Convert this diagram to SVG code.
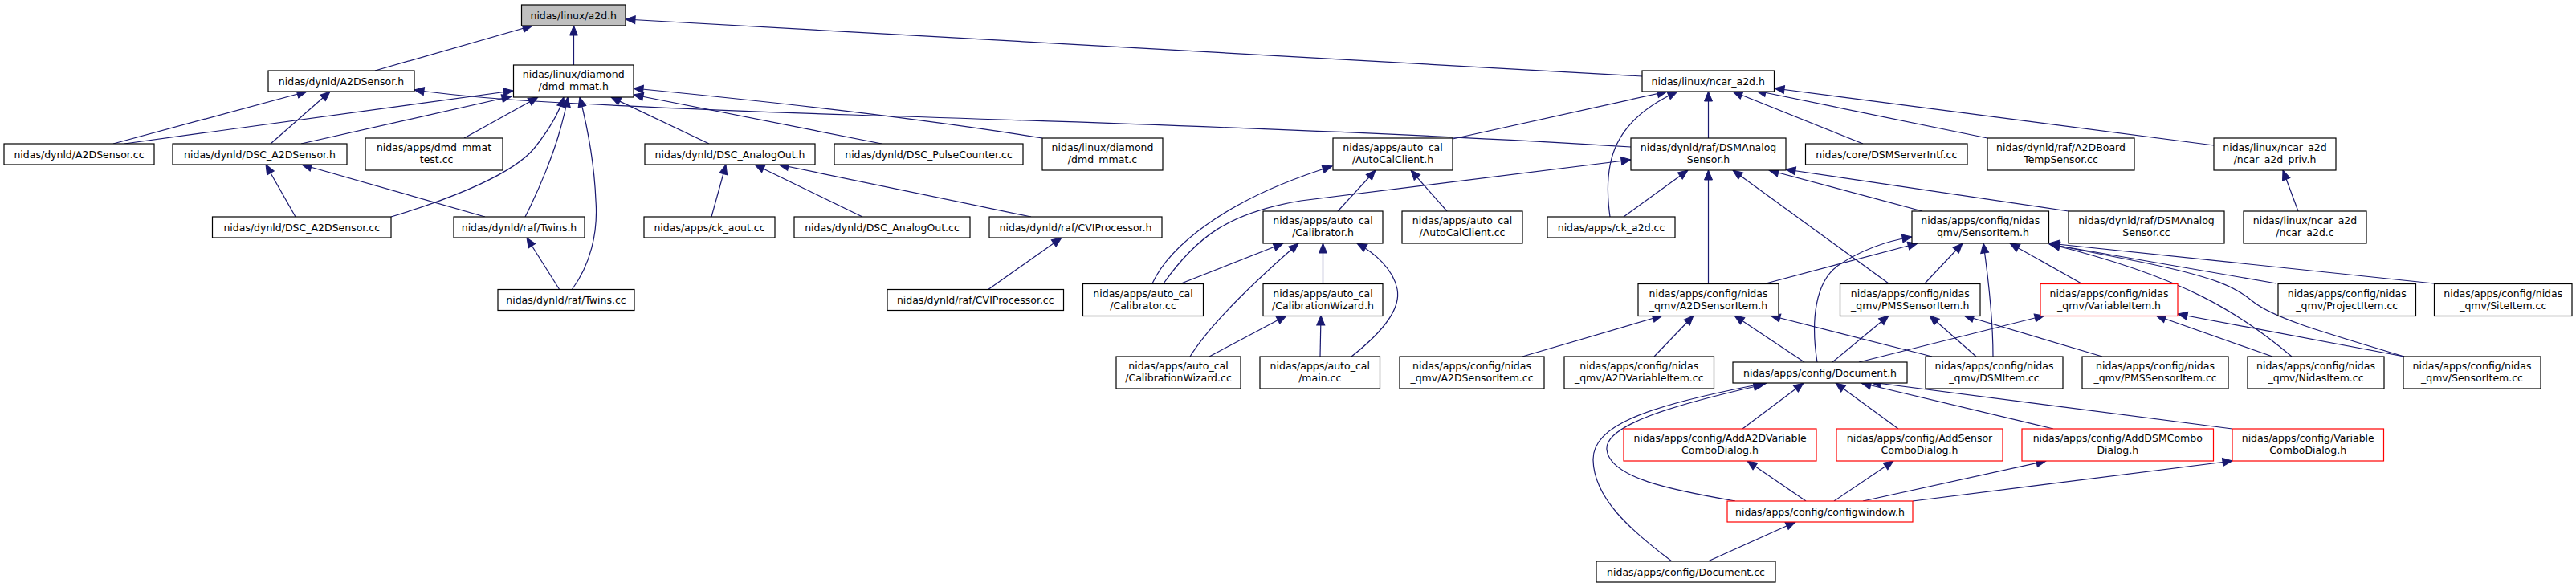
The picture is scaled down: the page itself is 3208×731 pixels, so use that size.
<svg xmlns="http://www.w3.org/2000/svg" width="3208" height="731" viewBox="0 0 3208 731">
<style>
.n rect{fill:#fff;stroke:#000;stroke-width:1.2}
.root rect{fill:#bfbfbf}
.red rect{stroke:#ff0000}
text{font-family:"DejaVu Sans","Liberation Sans",sans-serif;font-size:12.5px;fill:#000;text-anchor:middle}
#edges path{fill:none;stroke:#191970;stroke-width:1.2;marker-end:url(#ah)}
</style>
<defs>
<marker id="ah" markerUnits="userSpaceOnUse" markerWidth="14" markerHeight="12" refX="12" refY="5" orient="auto" overflow="visible"><path d="M0,0 L12,5 L0,10 Z" fill="#191970" stroke="#191970" stroke-width="1"/></marker>
</defs>
<rect width="3208" height="731" fill="#fff"/>
<g id="edges">
<path d="M467,88 L663,32"/>
<path d="M714.5,81 L714.5,32"/>
<path d="M2045,95 L779,24"/>
<path d="M141,179 L382,114"/>
<path d="M337,179 L411,114"/>
<path d="M2031,183 C1750,165 1350,152 1060,143 C900,138 780,132 700,128 C620,124 560,118 516,112"/>
<path d="M155,179 L639,113"/>
<path d="M375,179 L637,120"/>
<path d="M578,172 L670,121"/>
<path d="M487,270 C570,245 640,215 665,185 C685,160 697,138 702,121"/>
<path d="M654,270 C672,235 690,190 698,160 C702,145 705,135 707,121"/>
<path d="M712,361 C735,330 745,290 742,250 C740,200 732,160 722,121"/>
<path d="M883,179 L761,121"/>
<path d="M1098,179 L789,118"/>
<path d="M1298,172 Q1100,140 789,110"/>
<path d="M368,270 L331,205"/>
<path d="M604,270 L376,205"/>
<path d="M697,361 L656,296"/>
<path d="M886,270 L904,205"/>
<path d="M1074,270 L940,205"/>
<path d="M1284,270 L970,205"/>
<path d="M1230,361 L1322,296"/>
<path d="M1809,173 L2076,114"/>
<path d="M2005,270 C1995,200 2010,150 2089,114"/>
<path d="M2127.5,172 L2127.5,114"/>
<path d="M2320,179 L2158,114"/>
<path d="M2475,172 L2187,113"/>
<path d="M2757,181 L2210,110"/>
<path d="M2862,263 L2843,212"/>
<path d="M1666,263 L1713,212"/>
<path d="M1802,263 L1757,212"/>
<path d="M1435,353 C1455,310 1520,250 1659,207"/>
<path d="M1449,353 C1490,295 1530,265 1620,250 L2031,199"/>
<path d="M2022,270 L2102,212"/>
<path d="M2127.5,353 L2127.5,212"/>
<path d="M2352,353 L2158,212"/>
<path d="M2394,263 L2203,212"/>
<path d="M2576,263 L2224,211"/>
<path d="M1471,353 L1598,303"/>
<path d="M1647.5,353 L1647.5,303"/>
<path d="M1482,444 C1500,415 1540,370 1617,303"/>
<path d="M1683,444 C1720,415 1745,385 1740,360 C1735,335 1712,315 1690,303"/>
<path d="M1506,444 L1602,393"/>
<path d="M1644,444 L1645,393"/>
<path d="M2199,353 L2388,303"/>
<path d="M2263,451 C2255,400 2260,350 2290,330 C2320,310 2350,300 2381,295"/>
<path d="M2397,353 L2444,303"/>
<path d="M2482,444 C2482,400 2478,360 2470,303"/>
<path d="M2592,353 L2503,303"/>
<path d="M2835,353 L2552,304"/>
<path d="M3031,353 L2552,303"/>
<path d="M2854,444 C2790,390 2720,345 2553,304"/>
<path d="M2994,444 C2880,410 2830,395 2805,375 C2785,358 2760,345 2660,325 L2553,304"/>
<path d="M1896,444 L2070,393"/>
<path d="M2060,444 L2109,393"/>
<path d="M2247,451 L2160,393"/>
<path d="M2406,444 L2205,393"/>
<path d="M2282,451 L2352,393"/>
<path d="M2461,444 L2403,393"/>
<path d="M2618,444 L2446,393"/>
<path d="M2315,451 L2546,393"/>
<path d="M2830,444 L2685,393"/>
<path d="M2994,444 L2712,391"/>
<path d="M2082,699 C2030,660 1985,620 1984,573 C1983,530 2050,505 2200,477"/>
<path d="M2161,624 C2080,610 2005,595 2001,560 C1998,530 2080,505 2196,479"/>
<path d="M2170,534 L2246,477"/>
<path d="M2364,534 L2286,477"/>
<path d="M2557,534 L2318,477"/>
<path d="M2780,534 L2330,476"/>
<path d="M2249,624 L2176,574"/>
<path d="M2284,624 L2358,574"/>
<path d="M2320,624 L2548,574"/>
<path d="M2382,624 L2780,574"/>
<path d="M2127,699 L2236,650"/>
</g>
<g id="n1" class="n root"><rect x="649.5" y="6" width="129.5" height="26"/><text x="714.25" y="23.5">nidas/linux/a2d.h</text></g>
<g id="n2" class="n"><rect x="334" y="88" width="182" height="26"/><text x="425" y="105.5">nidas/dynld/A2DSensor.h</text></g>
<g id="n3" class="n"><rect x="639.5" y="81" width="149.5" height="40"/><text x="714.25" y="97">nidas/linux/diamond</text><text x="714.25" y="112">/dmd_mmat.h</text></g>
<g id="n4" class="n"><rect x="2045" y="88" width="164.5" height="26"/><text x="2127.25" y="105.5">nidas/linux/ncar_a2d.h</text></g>
<g id="n5" class="n"><rect x="5" y="179" width="187" height="26"/><text x="98.5" y="196.5">nidas/dynld/A2DSensor.cc</text></g>
<g id="n6" class="n"><rect x="215" y="179" width="217" height="26"/><text x="323.5" y="196.5">nidas/dynld/DSC_A2DSensor.h</text></g>
<g id="n7" class="n"><rect x="455" y="172" width="171" height="40"/><text x="540.5" y="188">nidas/apps/dmd_mmat</text><text x="540.5" y="203">_test.cc</text></g>
<g id="n8" class="n"><rect x="803" y="179" width="212" height="26"/><text x="909" y="196.5">nidas/dynld/DSC_AnalogOut.h</text></g>
<g id="n9" class="n"><rect x="1039" y="179" width="235" height="26"/><text x="1156.5" y="196.5">nidas/dynld/DSC_PulseCounter.cc</text></g>
<g id="n10" class="n"><rect x="1298" y="172" width="150" height="40"/><text x="1373" y="188">nidas/linux/diamond</text><text x="1373" y="203">/dmd_mmat.c</text></g>
<g id="n11" class="n"><rect x="1660" y="172" width="149" height="40"/><text x="1734.5" y="188">nidas/apps/auto_cal</text><text x="1734.5" y="203">/AutoCalClient.h</text></g>
<g id="n12" class="n"><rect x="2031" y="172" width="193" height="40"/><text x="2127.5" y="188">nidas/dynld/raf/DSMAnalog</text><text x="2127.5" y="203">Sensor.h</text></g>
<g id="n13" class="n"><rect x="2248.5" y="179" width="201.5" height="26"/><text x="2349.25" y="196.5">nidas/core/DSMServerIntf.cc</text></g>
<g id="n14" class="n"><rect x="2475" y="172" width="183" height="40"/><text x="2566.5" y="188">nidas/dynld/raf/A2DBoard</text><text x="2566.5" y="203">TempSensor.cc</text></g>
<g id="n15" class="n"><rect x="2757" y="172" width="152" height="40"/><text x="2833" y="188">nidas/linux/ncar_a2d</text><text x="2833" y="203">/ncar_a2d_priv.h</text></g>
<g id="n16" class="n"><rect x="264.5" y="270" width="222.5" height="26"/><text x="375.75" y="287.5">nidas/dynld/DSC_A2DSensor.cc</text></g>
<g id="n17" class="n"><rect x="565" y="270" width="163" height="26"/><text x="646.5" y="287.5">nidas/dynld/raf/Twins.h</text></g>
<g id="n18" class="n"><rect x="802" y="270" width="163" height="26"/><text x="883.5" y="287.5">nidas/apps/ck_aout.cc</text></g>
<g id="n19" class="n"><rect x="989" y="270" width="219" height="26"/><text x="1098.5" y="287.5">nidas/dynld/DSC_AnalogOut.cc</text></g>
<g id="n20" class="n"><rect x="1232" y="270" width="215" height="26"/><text x="1339.5" y="287.5">nidas/dynld/raf/CVIProcessor.h</text></g>
<g id="n21" class="n"><rect x="1573" y="263" width="149" height="40"/><text x="1647.5" y="279">nidas/apps/auto_cal</text><text x="1647.5" y="294">/Calibrator.h</text></g>
<g id="n22" class="n"><rect x="1746" y="263" width="150" height="40"/><text x="1821" y="279">nidas/apps/auto_cal</text><text x="1821" y="294">/AutoCalClient.cc</text></g>
<g id="n23" class="n"><rect x="1927" y="270" width="159" height="26"/><text x="2006.5" y="287.5">nidas/apps/ck_a2d.cc</text></g>
<g id="n24" class="n"><rect x="2381" y="263" width="170.5" height="40"/><text x="2466.25" y="279">nidas/apps/config/nidas</text><text x="2466.25" y="294">_qmv/SensorItem.h</text></g>
<g id="n25" class="n"><rect x="2576" y="263" width="194" height="40"/><text x="2673" y="279">nidas/dynld/raf/DSMAnalog</text><text x="2673" y="294">Sensor.cc</text></g>
<g id="n26" class="n"><rect x="2794" y="263" width="153" height="40"/><text x="2870.5" y="279">nidas/linux/ncar_a2d</text><text x="2870.5" y="294">/ncar_a2d.c</text></g>
<g id="n27" class="n"><rect x="620" y="360.5" width="170" height="26"/><text x="705" y="378">nidas/dynld/raf/Twins.cc</text></g>
<g id="n28" class="n"><rect x="1105" y="360.5" width="219.5" height="26"/><text x="1214.75" y="378">nidas/dynld/raf/CVIProcessor.cc</text></g>
<g id="n29" class="n"><rect x="1348.5" y="353.5" width="150" height="40"/><text x="1423.5" y="369.5">nidas/apps/auto_cal</text><text x="1423.5" y="384.5">/Calibrator.cc</text></g>
<g id="n30" class="n"><rect x="1573" y="353.5" width="149" height="40"/><text x="1647.5" y="369.5">nidas/apps/auto_cal</text><text x="1647.5" y="384.5">/CalibrationWizard.h</text></g>
<g id="n31" class="n"><rect x="2040" y="353.5" width="175" height="40"/><text x="2127.5" y="369.5">nidas/apps/config/nidas</text><text x="2127.5" y="384.5">_qmv/A2DSensorItem.h</text></g>
<g id="n32" class="n"><rect x="2291.5" y="353.5" width="174.5" height="40"/><text x="2378.75" y="369.5">nidas/apps/config/nidas</text><text x="2378.75" y="384.5">_qmv/PMSSensorItem.h</text></g>
<g id="n33" class="n red"><rect x="2541" y="353.5" width="171" height="40"/><text x="2626.5" y="369.5">nidas/apps/config/nidas</text><text x="2626.5" y="384.5">_qmv/VariableItem.h</text></g>
<g id="n34" class="n"><rect x="2837" y="353.5" width="171.5" height="40"/><text x="2922.75" y="369.5">nidas/apps/config/nidas</text><text x="2922.75" y="384.5">_qmv/ProjectItem.cc</text></g>
<g id="n35" class="n"><rect x="3031.5" y="353.5" width="171.5" height="40"/><text x="3117.25" y="369.5">nidas/apps/config/nidas</text><text x="3117.25" y="384.5">_qmv/SiteItem.cc</text></g>
<g id="n36" class="n"><rect x="1390" y="444" width="155" height="40"/><text x="1467.5" y="460">nidas/apps/auto_cal</text><text x="1467.5" y="475">/CalibrationWizard.cc</text></g>
<g id="n37" class="n"><rect x="1569" y="444" width="149.5" height="40"/><text x="1643.75" y="460">nidas/apps/auto_cal</text><text x="1643.75" y="475">/main.cc</text></g>
<g id="n38" class="n"><rect x="1743" y="444" width="180" height="40"/><text x="1833" y="460">nidas/apps/config/nidas</text><text x="1833" y="475">_qmv/A2DSensorItem.cc</text></g>
<g id="n39" class="n"><rect x="1948" y="444" width="186.5" height="40"/><text x="2041.25" y="460">nidas/apps/config/nidas</text><text x="2041.25" y="475">_qmv/A2DVariableItem.cc</text></g>
<g id="n40" class="n"><rect x="2158" y="451" width="217" height="26"/><text x="2266.5" y="468.5">nidas/apps/config/Document.h</text></g>
<g id="n41" class="n"><rect x="2398" y="444" width="171" height="40"/><text x="2483.5" y="460">nidas/apps/config/nidas</text><text x="2483.5" y="475">_qmv/DSMItem.cc</text></g>
<g id="n42" class="n"><rect x="2593" y="444" width="182" height="40"/><text x="2684" y="460">nidas/apps/config/nidas</text><text x="2684" y="475">_qmv/PMSSensorItem.cc</text></g>
<g id="n43" class="n"><rect x="2799" y="444" width="170" height="40"/><text x="2884" y="460">nidas/apps/config/nidas</text><text x="2884" y="475">_qmv/NidasItem.cc</text></g>
<g id="n44" class="n"><rect x="2993" y="444" width="171" height="40"/><text x="3078.5" y="460">nidas/apps/config/nidas</text><text x="3078.5" y="475">_qmv/SensorItem.cc</text></g>
<g id="n45" class="n red"><rect x="2022" y="534" width="240" height="40"/><text x="2142" y="550">nidas/apps/config/AddA2DVariable</text><text x="2142" y="565">ComboDialog.h</text></g>
<g id="n46" class="n red"><rect x="2287" y="534" width="207" height="40"/><text x="2390.5" y="550">nidas/apps/config/AddSensor</text><text x="2390.5" y="565">ComboDialog.h</text></g>
<g id="n47" class="n red"><rect x="2518" y="534" width="238.5" height="40"/><text x="2637.25" y="550">nidas/apps/config/AddDSMCombo</text><text x="2637.25" y="565">Dialog.h</text></g>
<g id="n48" class="n red"><rect x="2780" y="534" width="188.5" height="40"/><text x="2874.25" y="550">nidas/apps/config/Variable</text><text x="2874.25" y="565">ComboDialog.h</text></g>
<g id="n49" class="n red"><rect x="2151" y="624" width="231" height="26"/><text x="2266.5" y="641.5">nidas/apps/config/configwindow.h</text></g>
<g id="n50" class="n"><rect x="1988" y="699" width="223" height="26"/><text x="2099.5" y="716.5">nidas/apps/config/Document.cc</text></g>
</svg>
